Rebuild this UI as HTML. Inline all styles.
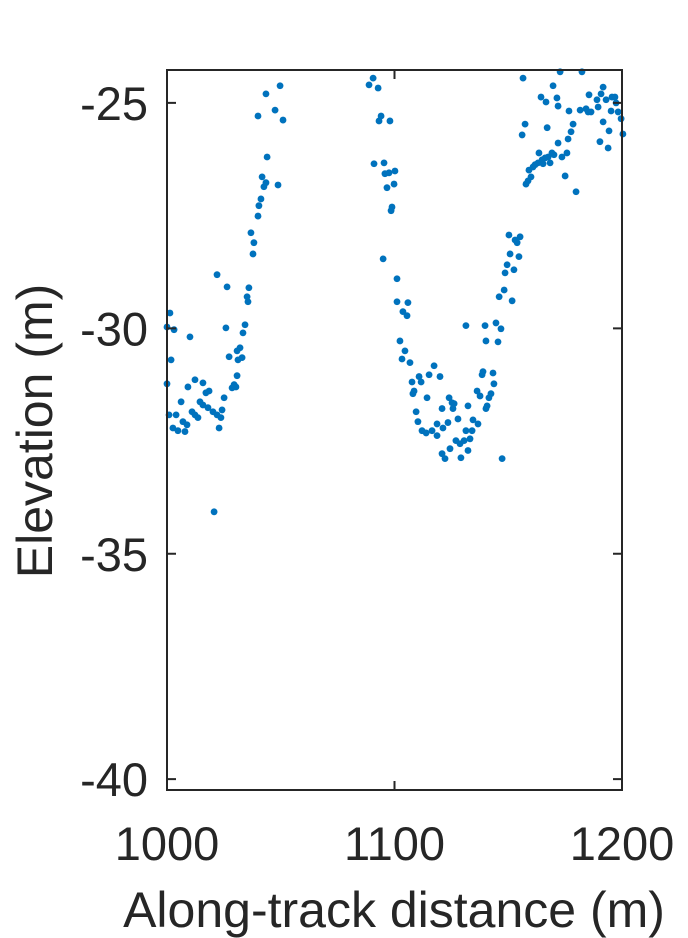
<!DOCTYPE html>
<html><head><meta charset="utf-8"><style>
html,body{margin:0;padding:0;background:#fff;}
svg{display:block;font-family:"Liberation Sans",Arial,sans-serif;}
</style></head><body>
<svg id="chart" width="688" height="938" viewBox="0 0 688 938" xmlns="http://www.w3.org/2000/svg"></svg>
<script>
const xTicks=[1000,1100,1200];
const yTicks=[-25,-30,-35,-40];
const xVals=[1001.3,1000.0,1003.1,1010.1,1001.8,1000.0,1012.3,1015.8,1009.2,1018.5,1017.1,1006.2,1014.5,1015.8,1018.0,1020.2,1000.9,1004.0,1011.0,1012.3,1013.6,1022.0,1023.7,1024.2,1025.1,1022.9,1002.6,1004.8,1007.0,1008.8,1007.9,1028.6,1029.5,1030.3,1030.8,1027.3,1031.2,1033.0,1030.8,1032.1,1025.9,1033.4,1034.3,1022.0,1026.4,1036.0,1035.2,1035.6,1020.7,1036.9,1038.2,1037.8,1040.0,1040.4,1041.3,1042.6,1043.5,1041.8,1048.8,1044.0,1040.0,1043.5,1047.5,1051.0,1049.7,
1088.8,1090.6,1092.8,1094.1,1093.2,1098.0,1091.0,1095.4,1095.8,1097.6,1100.2,1096.7,1099.8,1098.5,1098.9,1095.0,1101.1,1101.1,1105.9,1103.7,1105.5,1102.4,1104.6,1103.3,1106.8,1117.4,1110.8,1115.2,1120.0,1107.7,1111.7,1108.6,1108.1,1114.3,1124.0,1125.3,1126.2,1120.9,1125.7,1109.5,1110.3,1127.9,1132.3,1136.3,1137.6,1138.5,1138.9,1143.3,1143.7,1142.4,1141.5,1140.7,1140.2,1134.5,1136.7,1118.7,1121.3,1123.5,1116.5,1118.7,1112.1,1113.9,1134.1,1131.4,1133.2,1130.6,1127.0,1128.8,1132.3,1124.4,1120.9,1122.2,1129.2,1147.3,1131.4,1139.8,1144.6,1146.8,1140.2,1145.5,1146.0,1148.2,1151.7,1148.6,1149.5,1152.5,1150.8,1154.7,1150.3,1153.0,1153.9,1155.2,
1156.5,1156.1,1157.4,1157.8,1158.7,1160.0,1159.1,1160.9,1161.8,1163.5,1163.1,1164.9,1165.3,1166.2,1167.5,1168.4,1169.2,1170.1,1171.9,1173.6,1175.8,1175.0,1176.3,1177.6,1178.5,1176.7,1167.1,1164.4,1166.6,1169.7,1171.4,1171.9,1172.8,1179.8,1182.4,1181.6,1184.2,1185.1,1186.4,1185.5,1189.0,1189.5,1190.8,1191.7,1193.0,1195.6,1196.9,1197.4,1195.2,1198.3,1199.6,1200.4,1194.3,1191.7,1190.3,1193.9];
const yVals=[-29.66,-29.97,-30.03,-30.19,-30.70,-31.23,-31.14,-31.21,-31.30,-31.39,-31.43,-31.63,-31.63,-31.70,-31.76,-31.85,-31.92,-31.92,-31.85,-31.92,-31.98,-31.92,-31.98,-31.81,-31.54,-32.21,-32.21,-32.27,-32.07,-32.14,-32.29,-31.32,-31.25,-31.30,-31.05,-30.63,-30.70,-30.65,-30.50,-30.43,-29.99,-30.10,-29.92,-28.81,-29.08,-29.10,-29.30,-29.41,-34.07,-27.88,-28.10,-28.35,-27.51,-27.28,-27.13,-26.86,-26.77,-26.64,-26.82,-26.20,-25.29,-24.80,-25.16,-25.38,-24.62,
-24.60,-24.45,-24.67,-25.29,-25.40,-25.40,-26.35,-26.33,-26.57,-26.55,-26.51,-26.88,-26.80,-27.39,-27.31,-28.46,-28.90,-29.41,-29.43,-29.63,-29.72,-30.28,-30.50,-30.68,-30.76,-30.83,-31.07,-31.03,-31.07,-31.19,-31.19,-31.39,-31.45,-31.54,-31.54,-31.65,-31.67,-31.78,-31.78,-31.85,-32.07,-32.01,-31.72,-31.39,-31.50,-31.03,-30.96,-30.99,-31.23,-31.45,-31.54,-31.72,-31.78,-32.03,-32.12,-32.12,-32.21,-32.09,-32.27,-32.38,-32.27,-32.32,-32.27,-32.27,-32.45,-32.49,-32.49,-32.56,-32.71,-32.67,-32.78,-32.89,-32.87,-32.89,-29.94,-29.94,-29.88,-30.01,-30.28,-30.30,-29.30,-29.15,-29.39,-28.77,-28.59,-28.70,-28.35,-28.41,-27.93,-28.04,-28.10,-27.97,
-24.45,-25.71,-25.47,-26.80,-26.73,-26.64,-26.49,-26.42,-26.37,-26.11,-26.33,-26.26,-26.35,-26.22,-26.20,-26.33,-26.11,-26.15,-25.89,-26.20,-26.11,-26.62,-25.80,-25.64,-25.47,-25.18,-25.55,-24.87,-24.98,-24.62,-24.89,-25.07,-24.31,-26.97,-24.31,-25.16,-25.13,-25.20,-25.20,-24.82,-24.93,-25.09,-24.80,-24.65,-24.93,-24.87,-24.87,-25.00,-25.18,-25.20,-25.35,-25.69,-25.62,-25.42,-25.86,-26.00];

const NS="http://www.w3.org/2000/svg";
const svg=document.getElementById('chart');
const L=167,R=622,T=70,B=790;
const xMin=1000,xMax=1200,yMin=-40.24,yMax=-24.27;
function sx(v){return L+(v-xMin)/(xMax-xMin)*(R-L);}
function sy(v){return B-(v-yMin)/(yMax-yMin)*(B-T);}
function mk(tag,attrs){const e=document.createElementNS(NS,tag);for(const k in attrs)e.setAttribute(k,attrs[k]);svg.appendChild(e);return e;}

const pts=document.createElementNS(NS,'g');


svg.appendChild(pts);
for(let i=0;i<xVals.length;i++){
  const c=document.createElementNS(NS,'circle');
  c.setAttribute('cx',sx(xVals[i]));c.setAttribute('cy',sy(yVals[i]));c.setAttribute('r',3.4);c.setAttribute('fill','#0072BD');
  
  
  pts.appendChild(c);
}
const box=mk('rect',{x:L,y:T,width:R-L,height:B-T,fill:'none',stroke:'#262626','stroke-width':2});



const FS=47, FL=50;
xTicks.forEach(t=>{
  const x=sx(t);
  const tk=mk('path',{d:`M${x},${B}V${B-9}M${x},${T}V${T+9}`,stroke:'#262626','stroke-width':2});
  
  
  const lb=mk('text',{x:x,y:860,'text-anchor':'middle','font-size':FS,fill:'#262626'});
  lb.textContent=t;
  
  
});
yTicks.forEach(t=>{
  const y=sy(t);
  const tk=mk('path',{d:`M${L},${y}H${L+9}M${R},${y}H${R-9}`,stroke:'#262626','stroke-width':2});
  
  
  const lb=mk('text',{x:148,y:y+17,'text-anchor':'end','font-size':FS,fill:'#262626'});
  lb.textContent=t;
  
  
});
const xl=mk('text',{x:394,y:927,'text-anchor':'middle','font-size':FL,fill:'#262626'});
xl.textContent='Along-track distance (m)';


const yl=mk('text',{x:0,y:0,'text-anchor':'middle','font-size':FL,fill:'#262626',transform:'translate(52,431) rotate(-90)'});
yl.textContent='Elevation (m)';


</script>
</body></html>
